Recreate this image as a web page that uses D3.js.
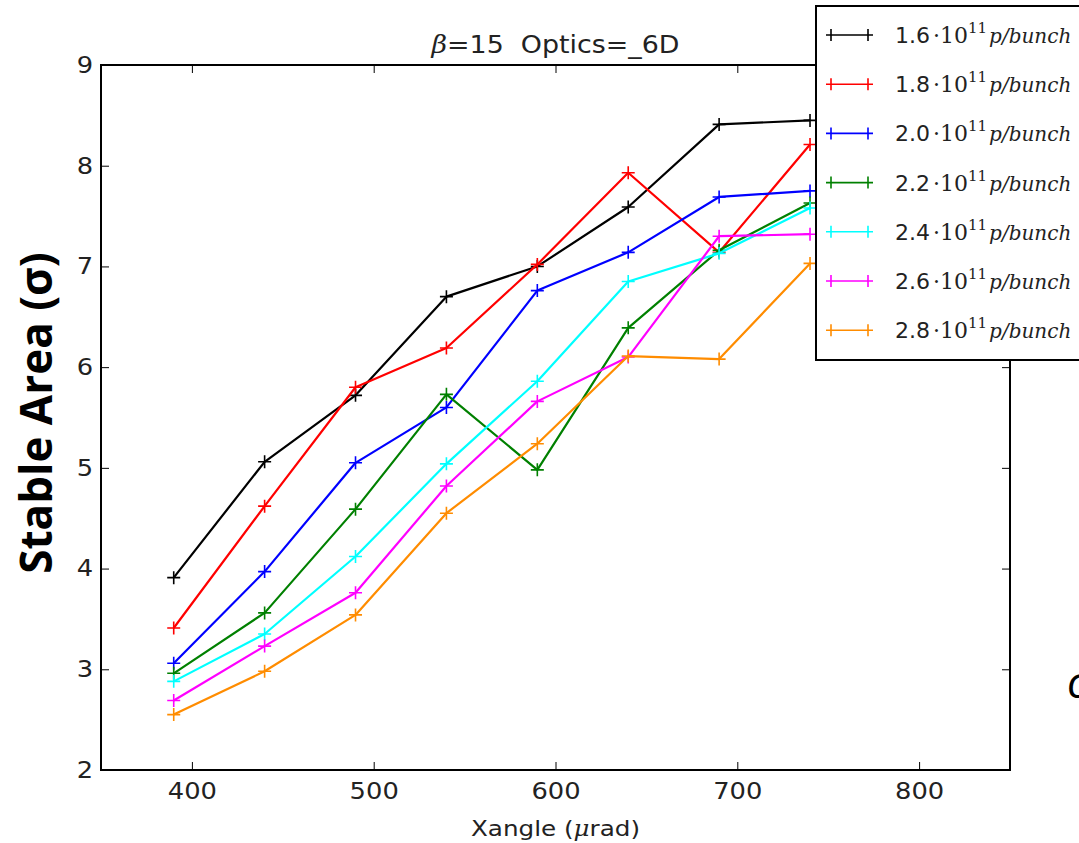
<!DOCTYPE html>
<html>
<head>
<meta charset="utf-8">
<script src="https://d3js.org/d3.v7.min.js"></script>
<style>
  body { margin: 0; background: #fff; }
  svg { display: block; }
  text { white-space: pre; }
</style>
</head>
<body>
<div id="chart"></div>
<script>
var WIDTH = 1079;
var HEIGHT = 843;
var LINE_WIDTH = 2.2;
var MARK = 6.5;
var STRETCH = 1.12; // source image is a bit wider than tall

// x positions (crossing angle, urad)
var xangles = [390, 440, 490, 540, 590, 640, 690, 740];

// bunch intensities (x 1e11 p/bunch) and their colours
var intensities = ["1.6", "1.8", "2.0", "2.2", "2.4", "2.6", "2.8"];
var colors = ["#000000", "#ff0000", "#0000ff", "#008000", "#00ffff", "#ff00ff", "#ff8c00"];

// stable area (sigma) per intensity
var area16 = [3.91, 5.06, 5.72, 6.70, 7.00, 7.59, 8.41, 8.45];
var area18 = [3.41, 4.62, 5.80, 6.19, 7.02, 7.93, 7.14, 8.21];
var area20 = [3.06, 3.97, 5.05, 5.60, 6.76, 7.14, 7.69, 7.75];
var area22 = [2.96, 3.56, 4.59, 5.73, 4.98, 6.39, 7.16, 7.63];
var area24 = [2.88, 3.35, 4.12, 5.04, 5.86, 6.85, 7.13, 7.58];
var area26 = [2.69, 3.23, 3.76, 4.82, 5.66, 6.10, 7.30, 7.32];
var area28 = [2.55, 2.98, 3.54, 4.55, 5.24, 6.11, 6.08, 7.03];

var xTicks = [400, 500, 600, 700, 800];
var yTicks = [2, 3, 4, 5, 6, 7, 8, 9];

var allAreas = [area16, area18, area20, area22, area24, area26, area28];
var series = intensities.map(function(k, i) {
    return {
        label: k,
        color: colors[i],
        points: xangles.map(function(x, j) { return {x: x, y: allAreas[i][j]}; })
    };
});

var margin = {top: 65, left: 101, right: WIDTH - 1010, bottom: HEIGHT - 770};

var svg = d3.select("#chart")
            .append("svg")
            .attr("width", WIDTH)
            .attr("height", HEIGHT);

var x = d3.scaleLinear().domain([350, 850]).range([margin.left, WIDTH - margin.right]);
var y = d3.scaleLinear().domain([2, 9]).range([HEIGHT - margin.bottom, margin.top]);

var tickFont = "DejaVu Sans, sans-serif";

// clip to axes
svg.append("clipPath").attr("id", "plotclip")
   .append("rect")
   .attr("x", margin.left).attr("y", margin.top)
   .attr("width", x.range()[1] - x.range()[0])
   .attr("height", y.range()[0] - y.range()[1]);

var plot = svg.append("g").attr("clip-path", "url(#plotclip)");

var line = d3.line().x(function(d) { return x(d.x); }).y(function(d) { return y(d.y); });

var grp = plot.selectAll(".series")
              .data(series)
              .enter().append("g")
              .attr("class", "series");

grp.append("path")
   .attr("d", function(d) { return line(d.points); })
   .attr("fill", "none")
   .attr("stroke", function(d) { return d.color; })
   .attr("stroke-width", LINE_WIDTH)
   .attr("stroke-linejoin", "round");

grp.each(function(s) {
    d3.select(this).selectAll(".mk")
      .data(s.points)
      .enter().append("path")
      .attr("class", "mk")
      .attr("d", function(d) {
          var cx = x(d.x), cy = y(d.y);
          return "M" + (cx - MARK) + "," + cy + "H" + (cx + MARK) +
                 "M" + cx + "," + (cy - MARK) + "V" + (cy + MARK);
      })
      .attr("stroke", s.color)
      .attr("stroke-width", 1.6);
});

// axes, ticks inward on every side
var xAxisB = d3.axisBottom(x).tickValues(xTicks).tickSizeInner(-8).tickSizeOuter(0).tickPadding(13);
var xAxisT = d3.axisTop(x).tickValues(xTicks).tickSizeInner(-8).tickSizeOuter(0).tickFormat("");
var yAxisL = d3.axisLeft(y).tickValues(yTicks).tickSizeInner(-8).tickSizeOuter(0).tickPadding(7).tickFormat(d3.format("d"));
var yAxisR = d3.axisRight(y).tickValues(yTicks).tickSizeInner(-8).tickSizeOuter(0).tickFormat("");

svg.append("g").attr("transform", "translate(0," + y(2) + ")").call(xAxisB);
svg.append("g").attr("transform", "translate(0," + y(9) + ")").call(xAxisT);
svg.append("g").attr("transform", "translate(" + x(350) + ",0)").call(yAxisL);
svg.append("g").attr("transform", "translate(" + x(850) + ",0)").call(yAxisR);

svg.selectAll(".domain").remove();
svg.selectAll(".tick line").attr("stroke", "#000").attr("stroke-width", 1);
svg.selectAll(".tick text")
   .attr("font-family", tickFont)
   .attr("font-size", 23)
   .attr("fill", "#222")
   .attr("transform", "scale(" + STRETCH + ",1)");

svg.append("rect")
   .attr("x", x(350)).attr("y", y(9))
   .attr("width", x(850) - x(350))
   .attr("height", y(2) - y(9))
   .attr("fill", "none")
   .attr("stroke", "#000")
   .attr("stroke-width", 2);

var midX = (x(350) + x(850)) / 2;

// title
var title = svg.append("text")
   .attr("transform", "translate(" + midX + ",53) scale(" + STRETCH + ",1)")
   .attr("text-anchor", "middle")
   .attr("font-family", tickFont)
   .attr("font-size", 24)
   .attr("fill", "#222");
title.append("tspan").attr("font-family", "DejaVu Serif, serif").attr("font-style", "italic").text("β");
title.append("tspan").text("=15  Optics=_6D");

// x label
var xlab = svg.append("text")
   .attr("transform", "translate(" + midX + ",836) scale(" + STRETCH + ",1)")
   .attr("text-anchor", "middle")
   .attr("font-family", tickFont)
   .attr("font-size", 22)
   .attr("fill", "#222");
xlab.append("tspan").text("Xangle (");
xlab.append("tspan").attr("font-family", "DejaVu Serif, serif").attr("font-style", "italic").text("μ");
xlab.append("tspan").text("rad)");

// y label (bold slide text)
svg.append("text")
   .attr("transform", "translate(52,413) rotate(-90)")
   .attr("text-anchor", "middle")
   .attr("font-family", "Open Sans, sans-serif")
   .attr("font-weight", "bold")
   .attr("font-size", 44)
   .attr("fill", "#000")
   .text("Stable Area (σ)");

// legend
var legX = 816, legY = 6, legH = 354, rowGap = 49.2;
var leg = svg.append("g");
leg.append("rect")
   .attr("x", legX).attr("y", legY)
   .attr("width", 400).attr("height", legH)
   .attr("fill", "#fff")
   .attr("stroke", "#000")
   .attr("stroke-width", 2);

var rows = leg.selectAll(".row")
   .data(series)
   .enter().append("g")
   .attr("transform", function(d, i) { return "translate(0," + (35 + i * rowGap) + ")"; });

rows.append("path")
    .attr("d", "M826,0H873M831,-6V6M868,-6V6")
    .attr("stroke", function(d) { return d.color; })
    .attr("stroke-width", 1.6)
    .attr("fill", "none");

var lt = rows.append("text")
    .attr("x", 895)
    .attr("y", 8)
    .attr("font-family", tickFont)
    .attr("font-size", 22)
    .attr("fill", "#222");
lt.append("tspan").text(function(d) { return d.label; });
lt.append("tspan").attr("font-family", "DejaVu Serif, serif").attr("dx", 3).text("·10");
lt.append("tspan").attr("font-family", "DejaVu Serif, serif").attr("font-size", 15).attr("dy", -10).text("11");
lt.append("tspan").attr("font-family", "DejaVu Serif, serif").attr("font-style", "italic").attr("font-size", 20).attr("dy", 10).attr("dx", 2).text("p/bunch");

// cut-off slide glyph at right edge
svg.append("text")
   .attr("x", 1067)
   .attr("y", 698)
   .attr("font-family", "Open Sans, sans-serif")
   .attr("font-style", "italic")
   .attr("font-size", 44)
   .attr("fill", "#000")
   .text("σ");
</script>
</body>
</html>
